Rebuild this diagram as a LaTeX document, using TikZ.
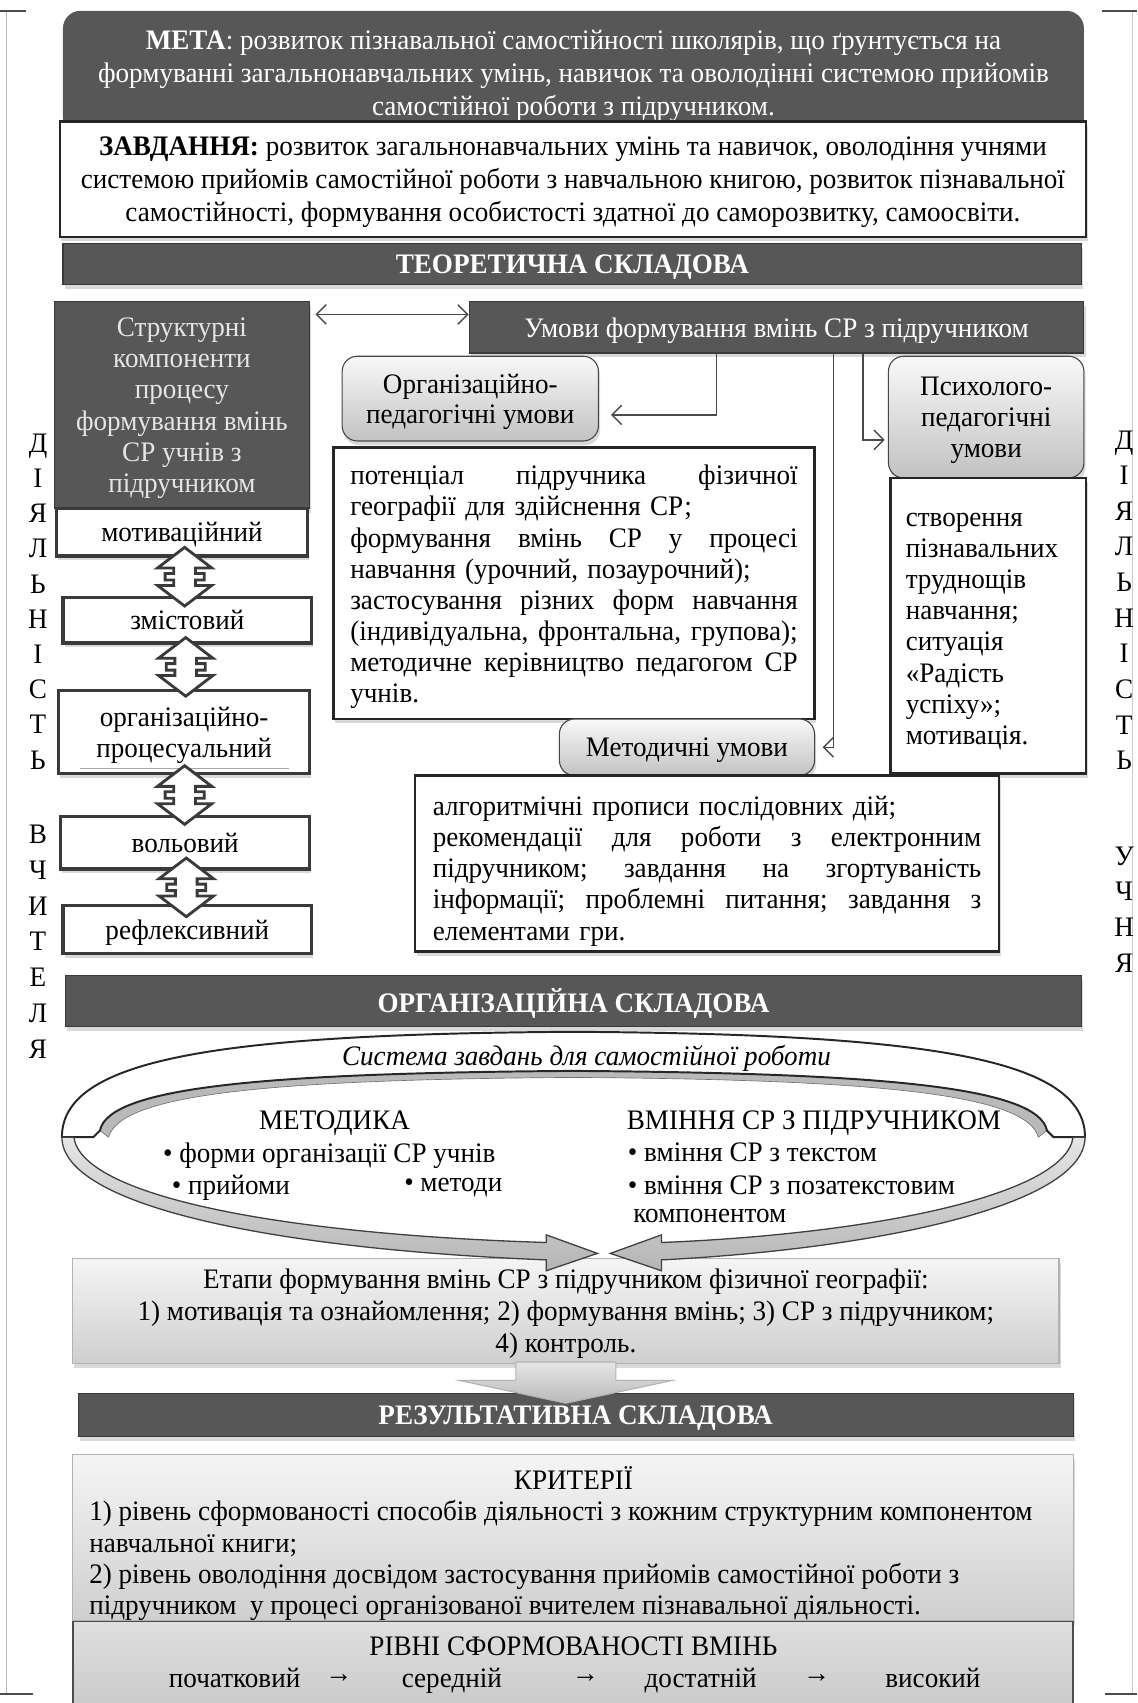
\documentclass[tikz,border=0pt]{standalone}
\usepackage{fontspec}
\setmainfont{Liberation Serif}[FakeStretch=0.96]
\usetikzlibrary{shadows,arrows.meta,calc}
\definecolor{barc}{HTML}{575757}
\definecolor{edgec}{HTML}{3A3A3A}
\definecolor{linec}{HTML}{4A4A4A}
\newcommand{\jline}[1]{\leavevmode\hbox to \linewidth{#1}}
\newcommand{\topstrut}[1]{\rule{0pt}{#1}}
\setlength{\parindent}{0pt}
\hyphenpenalty=10000
\exhyphenpenalty=10000
\tikzset{
  txt/.style={font=\fontsize{26}{28.7}\selectfont, inner sep=0pt},
  lowered/.style={text depth=0pt},
  softshadow/.style={drop shadow={shadow xshift=1.5pt, shadow yshift=-4pt, opacity=0.3}},
  darkbar/.style={txt, lowered, fill=barc, draw=edgec, line width=1pt, text=white, softshadow},
  whitebox/.style={txt, fill=white, draw=black!85, line width=2.2pt, softshadow},
  compbox/.style={whitebox, lowered, draw=edgec, line width=3pt},
  gradbox/.style={txt, lowered, rounded corners=14pt, top color=gray!5, bottom color=gray!48, draw=gray!55!black, line width=1pt, softshadow},
  panel/.style={txt, lowered, top color=gray!8, bottom color=gray!38, draw=gray!60, line width=1pt, softshadow},
  conn/.style={draw=linec, line width=1.3pt},
  barbend/.style={-{Straight Barb[length=9pt,width=18pt,line width=1.3pt]}},
  dblarr/.style={fill=white, draw=edgec, line width=2.6pt, line join=miter},
  ribbon/.style={draw=black!75, line width=1.2pt, top color=gray!20, bottom color=gray!58},
}
\begin{document}
\begin{tikzpicture}[x=1pt,y=-1pt]
\useasboundingbox (0,0) rectangle (1047,1568);

% frame
\draw[gray!55, line width=1pt] (6,10) -- (6,1560);
\draw[gray!40, line width=1pt] (1043,10) -- (1043,1560);
\draw[black!70, line width=1.6pt] (0,10) -- (24,10) (1015,10) -- (1047,10) (0,1560) -- (30,1560) (1017,1560) -- (1047,1560);

% МЕТА
\path[fill=barc, rounded corners=16pt] (58,125) rectangle (998,10);
\node[txt, lowered, text=white, align=center, font=\fontsize{26}{30}\selectfont] (meta) at (528,67)
 {\textbf{МЕТА}: розвиток пізнавальної самостійності школярів, що ґрунтується на\\
  формуванні загальнонавчальних умінь, навичок та оволодінні системою прийомів\\
  самостійної роботи з підручником.};

% ЗАВДАННЯ
\node[whitebox, lowered, minimum width=945pt, minimum height=106pt, align=center, font=\fontsize{26}{30}\selectfont] (zavd) at (527.5,165)
 {\textbf{ЗАВДАННЯ:} розвиток загальнонавчальних умінь та навичок, оволодіння учнями\\
  системою прийомів самостійної роботи з навчальною книгою, розвиток пізнавальної\\
  самостійності, формування особистості здатної до саморозвитку, самоосвіти.};

% ТЕОРЕТИЧНА СКЛАДОВА
\node[darkbar, font=\fontsize{26}{28.7}\selectfont\bfseries, minimum width=938pt, minimum height=38pt] (teor) at (527,243) {ТЕОРЕТИЧНА СКЛАДОВА};

% structural components
\node[darkbar, text=white!90!black, minimum width=235pt, minimum height=190pt, align=center] (struct) at (167.5,373)
 {Структурні\\компоненти\\процесу\\формування вмінь\\СР учнів з\\підручником};

\node[darkbar, minimum width=566pt, minimum height=47pt] (umovy) at (715,301.5) {Умови формування вмінь СР з підручником};

\node[gradbox, minimum width=236pt, minimum height=78pt, align=center, font=\fontsize{26}{28}\selectfont] (orgumovy) at (433,367) {Організаційно-\\педагогічні умови};
\node[gradbox, minimum width=180pt, minimum height=112pt, align=center, font=\fontsize{26}{28.5}\selectfont] (psych) at (908,384) {Психолого-\\педагогічні\\умови};

\node[whitebox, minimum width=180pt, minimum height=272pt, text width=152pt, align=left] (psychtext) at (910,576)
 {\topstrut{23pt}створення\\пізнавальних\\труднощів\\навчання;\\ситуація\\«Радість\\успіху»;\\мотивація.};

\node[whitebox, minimum width=443pt, minimum height=250pt, text width=412pt, align=left] (orgtext) at (528.5,537)
 {\topstrut{25pt}\jline{потенціал\hfill підручника\hfill фізичної}\\
  географії для здійснення СР;\\
  \jline{формування\hfill вмінь\hfill СР\hfill у\hfill процесі}\\
  навчання (урочний, позаурочний);\\
  \jline{застосування\hfill різних\hfill форм\hfill навчання}\\
  \jline{(індивідуальна,\hfill фронтальна,\hfill групова);}\\
  \jline{методичне\hfill керівництво\hfill педагогом\hfill СР}\\
  учнів.};

\node[gradbox, minimum width=235pt, minimum height=52pt] (metumovy) at (632.5,688) {Методичні умови};

\node[whitebox, minimum width=538pt, minimum height=162pt, text width=505pt, align=left] (mettext) at (651,795)
 {\topstrut{32pt}алгоритмічні прописи послідовних дій;\\
  \jline{рекомендації\hfill для\hfill роботи\hfill з\hfill електронним}\\
  \jline{підручником;\hfill завдання\hfill на\hfill згортуваність}\\
  \jline{інформації;\hfill проблемні\hfill питання;\hfill завдання\hfill з}\\
  елементами гри.};

% connectors in the theoretical part
\draw[conn, {Straight Barb[length=9pt,width=18pt,line width=1.3pt]}-{Straight Barb[length=9pt,width=18pt,line width=1.3pt]}]
  ([shift={(5,12)}]struct.north east) -- ([shift={(0,12)}]umovy.north west);
\draw[conn, barbend] ([shift={(228,0)}]umovy.south west) |- ([shift={(11,15)}]orgumovy.east);
\draw[conn, barbend] ([shift={(336,0)}]umovy.south west) |- ([shift={(7,0)}]metumovy.east);
\draw[conn, barbend] ([shift={(363,0)}]umovy.south west) |- ([shift={(-3,21)}]psych.west);

% components
\node[compbox, minimum width=231pt, minimum height=44pt] (m1) at (167.5,490) {мотиваційний};
\node[compbox, minimum width=229pt, minimum height=42pt] (m2) at (172.5,571) {змістовий};
\node[compbox, minimum width=231pt, minimum height=76pt, align=center] (m3) at (169.5,674) {організаційно-\\процесуальний};
\node[compbox, minimum width=229pt, minimum height=48pt] (m4) at (170.5,776) {вольовий};
\node[compbox, minimum width=229pt, minimum height=44pt] (m5) at (172.5,856) {рефлексивний};
\draw[gray!70, line width=0.8pt] ([shift={(21,-6)}]m3.south west) -- ([shift={(-20,-6)}]m3.south east);

\coordinate (d1) at ($(m1.south)!0.5!(m2.north)$);
\coordinate (d2) at ($(m2.south)!0.5!(m3.north)$);
\coordinate (d3) at ($(m3.south)!0.5!(m4.north)$);
\coordinate (d4) at ($(m4.south)!0.5!(m5.north)$);
\foreach \d in {d1,d2,d3,d4}{
  \draw[dblarr, shift={(\d)}] (0,-27) -- (25,-8) -- (10,-8) -- (10,-3) -- (18,-3) -- (18,3) -- (10,3) -- (10,8) -- (25,8) -- (0,27)
     -- (-25,8) -- (-10,8) -- (-10,3) -- (-18,3) -- (-18,-3) -- (-10,-3) -- (-10,-8) -- (-25,-8) -- cycle;
}

% vertical words
\foreach \c [count=\i from 0] in {Д,І,Я,Л,Ь,Н,І,С,Т,Ь} \node[txt, lowered] (la\i) at (35,{408+32.4*\i}) {\c};
\foreach \c [count=\i from 0] in {В,Ч,И,Т,Е,Л,Я} \node[txt, lowered] (lb\i) at (35,{768+33*\i}) {\c};
\foreach \c [count=\i from 0] in {Д,І,Я,Л,Ь,Н,І,С,Т,Ь} \node[txt, lowered] (ra\i) at (1035,{405+32.8*\i}) {\c};
\foreach \c [count=\i from 0] in {У,Ч,Н,Я} \node[txt, lowered] (rb\i) at (1035,{788+33*\i}) {\c};

% ОРГАНІЗАЦІЙНА СКЛАДОВА
\node[darkbar, font=\fontsize{26}{28.7}\selectfont\bfseries, minimum width=936pt, minimum height=47pt] (org) at (528,921.5) {ОРГАНІЗАЦІЙНА СКЛАДОВА};

% Етапи
\node[panel, minimum width=908pt, minimum height=97pt, align=center, font=\fontsize{26}{29.5}\selectfont] (etapy) at (521,1207)
 {Етапи формування вмінь СР з підручником фізичної географії:\\
  1) мотивація та ознайомлення; 2) формування вмінь; 3) СР з підручником;\\
  4) контроль.};

% cycle arrow
\path[fill=gray!55, draw=black!55, line width=0.6pt]
  (92,1041) .. controls (100,1000) and (250,988) .. (528,986) .. controls (806,988) and (956,1000) .. (964,1041)
  -- (956,1047) .. controls (945,1007) and (806,994) .. (528,992) .. controls (250,994) and (111,1007) .. (100,1047) -- cycle;
\path[draw=black!85, line width=1.8pt, fill=white, line join=round]
  (57,1047) .. controls (57,975) and (200,952) .. (528,950) .. controls (856,952) and (999,975) .. (999,1047)
  -- (970,1047) -- (964,1041) .. controls (956,1000) and (806,988) .. (528,986) .. controls (250,988) and (100,1000) .. (92,1041)
  -- (86,1047) -- cycle;
\path[ribbon]
  (57,1047) .. controls (57,1110) and (250,1150) .. (503,1160) -- (503,1170) -- (550,1154) -- (503,1137) -- (503,1144)
  .. controls (250,1136) and (75,1100) .. (68,1047) -- cycle;
\path[ribbon]
  (999,1047) .. controls (999,1110) and (806,1150) .. (609,1160) -- (609,1170) -- (562,1154) -- (609,1137) -- (609,1144)
  .. controls (806,1136) and (981,1100) .. (988,1047) -- cycle;

\node[txt, lowered, font=\fontsize{26}{28.7}\selectfont\itshape] (sys) at (540,972) {Система завдань для самостійної роботи};
\node[txt, lowered] (metod) at (308,1031) {МЕТОДИКА};
\node[txt, lowered, anchor=west] (mf) at (150,1061) {• форми організації СР учнів};
\node[txt, lowered, anchor=west] (mp) at (158,1091) {• прийоми};
\node[txt, lowered, anchor=west] (mm) at (372,1091) {• методи};
\node[txt, lowered, anchor=west] (vm) at (577,1031) {ВМІННЯ СР З ПІДРУЧНИКОМ};
\node[txt, lowered, anchor=west] (vt) at (578,1061) {• вміння СР з текстом};
\node[txt, lowered, anchor=west] (vp) at (578,1091) {• вміння СР з позатекстовим};
\node[txt, lowered, anchor=west] (vk) at (583,1119) {компонентом};

% РЕЗУЛЬТАТИВНА СКЛАДОВА
\node[darkbar, font=\fontsize{26}{28.7}\selectfont\bfseries, minimum width=916pt, minimum height=40pt] (rez) at (530,1303) {РЕЗУЛЬТАТИВНА СКЛАДОВА};
\path[shift={(etapy.south)}, draw=gray!60, line width=1pt, top color=gray!20, bottom color=gray!55]
  (-46,-2) -- (46,-2) -- (46,15) -- (98,15) -- (0,36) -- (-98,15) -- (-46,15) -- cycle;

% КРИТЕРІЇ
\node[panel, minimum width=921pt, minimum height=153pt] (kryt) at (527.5,1416) {};
\node[txt, lowered] (krytt) at (528,1361) {КРИТЕРІЇ};
\node[txt, lowered, anchor=west, align=left] (krytb) at (82,1434)
 {1) рівень сформованості способів діяльності з кожним структурним компонентом\\
  навчальної книги;\\
  2) рівень оволодіння досвідом застосування прийомів самостійної роботи з\\
  підручником\ \ у процесі організованої вчителем пізнавальної діяльності.};

% РІВНІ
\node[txt, top color=gray!25, bottom color=gray!42, draw=black!70, line width=1.5pt, minimum width=921pt, minimum height=80pt] (rivni) at (527.5,1533) {};
\node[txt, lowered] (rivnit) at (528,1516) {РІВНІ СФОРМОВАНОСТІ ВМІНЬ};
\node[txt, lowered] (r1) at (216,1545) {початковий};
\node[txt, lowered] (ra1) at (312,1545) {→};
\node[txt, lowered] (r2) at (416,1545) {середній};
\node[txt, lowered] (ra2) at (539,1545) {→};
\node[txt, lowered] (r3) at (645,1545) {достатній};
\node[txt, lowered] (ra3) at (752,1545) {→};
\node[txt, lowered] (r4) at (859,1545) {високий};
\end{tikzpicture}
\end{document}
